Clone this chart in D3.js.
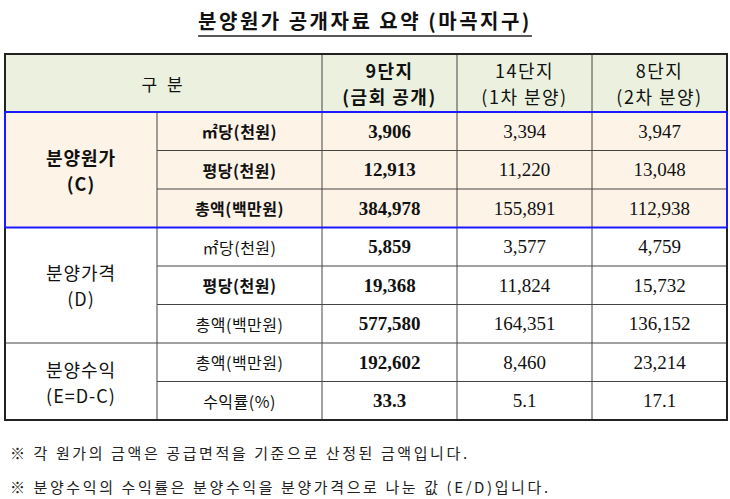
<!DOCTYPE html><html><head><meta charset="utf-8">
<script src="https://cdn.jsdelivr.net/npm/d3@7"></script>
<style>body{margin:0;background:#fff}</style></head><body>
<svg id="c" width="730" height="499"></svg>
<script>
const title = "분양원가 공개자료 요약 (마곡지구)";
const columns = ["9단지\n(금회 공개)", "14단지\n(1차 분양)", "8단지\n(2차 분양)"];
const groups = [
  {name:"분양원가\n(C)", rows:3},
  {name:"분양가격\n(D)", rows:3},
  {name:"분양수익\n(E=D-C)", rows:2}
];
const items = ["㎡당(천원)","평당(천원)","총액(백만원)","㎡당(천원)","평당(천원)","총액(백만원)","총액(백만원)","수익률(%)"];
const itemBold = [true,true,true,false,true,false,false,false];
const col9 = ["3,906","12,913","384,978","5,859","19,368","577,580","192,602","33.3"];
const col14 = ["3,394","11,220","155,891","3,577","11,824","164,351","8,460","5.1"];
const col8 = ["3,947","13,048","112,938","4,759","15,732","136,152","23,214","17.1"];
const notes = ["※ 각 원가의 금액은 공급면적을 기준으로 산정된 금액입니다.","※ 분양수익의 수익률은 분양수익을 분양가격으로 나눈 값 (E/D)입니다."];

const svg = d3.select("#c");
const F = "'Noto Sans CJK KR','Noto Sans',sans-serif";
const FS = "'Liberation Serif','Noto Sans CJK KR',serif";
const xb = [5,157,322,457,592,727];
const y = d3.scaleLinear().domain([0,8]).range([112,420]);
const hdrTop = 54;

const t = svg.append("text").attr("x",365).attr("y",29).attr("text-anchor","middle")
  .attr("font-family",F).attr("font-size",20).attr("font-weight","bold").attr("letter-spacing",2.5).attr("fill","#111").text(title);
const bb = t.node().getBBox();
svg.append("line").attr("x1",bb.x).attr("x2",bb.x+bb.width).attr("y1",36).attr("y2",36).attr("stroke","#222").attr("stroke-width",1.3);

svg.append("rect").attr("x",xb[0]).attr("y",hdrTop).attr("width",xb[5]-xb[0]).attr("height",y(0)-hdrTop).attr("fill","#ebf1de");
svg.append("rect").attr("x",xb[0]).attr("y",y(0)).attr("width",xb[5]-xb[0]).attr("height",y(3)-y(0)).attr("fill","#fdf3e7");

const g = svg.append("g");
for(let i=1;i<8;i++){ if(i===3||i===6) continue;
  g.append("line").attr("x1",xb[1]).attr("x2",xb[5]).attr("y1",y(i)).attr("y2",y(i)).attr("stroke","#444").attr("stroke-width",1);}
g.append("line").attr("x1",xb[0]).attr("x2",xb[5]).attr("y1",y(6)).attr("y2",y(6)).attr("stroke","#444").attr("stroke-width",1);
[1,2,3,4].forEach(i=>{
  const top = i===1? y(0): hdrTop;
  g.append("line").attr("x1",xb[i]).attr("x2",xb[i]).attr("y1",top).attr("y2",y(8)).attr("stroke","#444").attr("stroke-width",1);});
g.append("rect").attr("x",xb[0]).attr("y",hdrTop).attr("width",xb[5]-xb[0]).attr("height",y(8)-hdrTop).attr("fill","none").attr("stroke","#222").attr("stroke-width",2);
g.append("rect").attr("x",xb[0]).attr("y",y(0)).attr("width",xb[5]-xb[0]).attr("height",y(3)-y(0)).attr("fill","none").attr("stroke","#1a1aff").attr("stroke-width",2);

function multi(x,yc,str,opts){
  const lines=str.split("\n"); const lh=opts.lh||24;
  const tt=svg.append("text").attr("text-anchor","middle").attr("font-family",opts.font||F)
   .attr("font-size",opts.size||16).attr("font-weight",opts.bold?"bold":"normal").attr("letter-spacing",opts.ls||0).attr("fill","#111");
  lines.forEach((l,i)=>tt.append("tspan").attr("x",x).attr("y",yc-(lines.length-1)*lh/2+i*lh).attr("dominant-baseline","central").text(l));
}
const hc = (hdrTop+y(0))/2;
multi((xb[0]+xb[2])/2, hc, "구    분", {size:17, ls:3});
columns.forEach((c,i)=>multi((xb[i+2]+xb[i+3])/2, hc, c, {size:18, bold:i===0, lh:26, ls:1.5}));
let r=0;
groups.forEach((gr,gi)=>{ multi((xb[0]+xb[1])/2,(y(r)+y(r+gr.rows))/2,gr.name,{size:18,bold:gi===0,lh:26,ls:1}); r+=gr.rows;});
items.forEach((it,i)=>{
  multi((xb[1]+xb[2])/2,(y(i)+y(i+1))/2,it,{size:16,bold:itemBold[i],ls:0.5});
  multi((xb[2]+xb[3])/2,(y(i)+y(i+1))/2,col9[i],{size:19,bold:true,font:FS});
  multi((xb[3]+xb[4])/2,(y(i)+y(i+1))/2,col14[i],{size:19,font:FS});
  multi((xb[4]+xb[5])/2,(y(i)+y(i+1))/2,col8[i],{size:19,font:FS});
});
notes.forEach((n,i)=>svg.append("text").attr("x",10).attr("y",459+i*34).attr("font-family",F).attr("font-size",15).attr("letter-spacing",2.6).attr("fill","#222").text(n));
</script></body></html>
